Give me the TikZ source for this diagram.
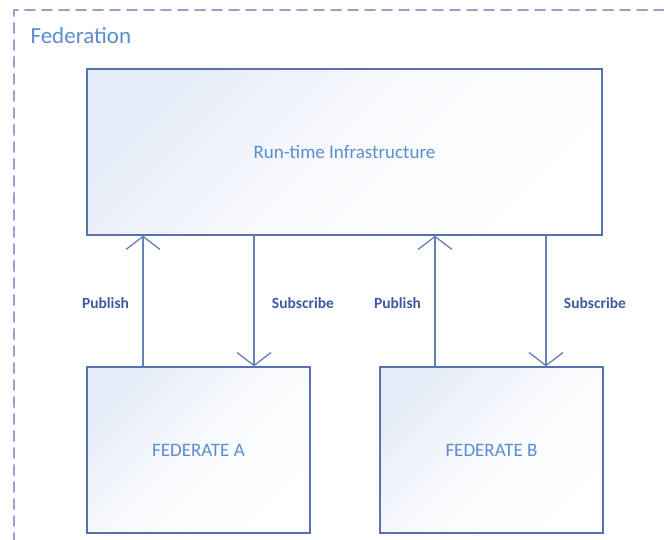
\documentclass[tikz,border=0pt]{standalone}
\usepackage{fontspec}
\setmainfont{Carlito}
\usetikzlibrary{arrows.meta,positioning}
\definecolor{frameblue}{HTML}{93A3CC}
\definecolor{boxline}{HTML}{5673AE}
\definecolor{textblue}{HTML}{5B8ED0}
\definecolor{labelblue}{HTML}{3D5C9E}
\definecolor{boxfill}{HTML}{E6ECF8}

\begin{document}
\begin{tikzpicture}[x=1pt,y=-1pt,line cap=round,
  block/.style={draw=boxline,line width=1.3pt,left color=boxfill,right color=white,middle color=white!75!boxfill,shading angle=45,
    text=textblue,font=\fontsize{19}{22}\selectfont,inner sep=0pt},
  flow/.style={draw=boxline!90,line width=1.3pt,-{Straight Barb[length=13pt,width=34pt,line width=1.3pt]}},
  lbl/.style={text=labelblue,font=\fontsize{15.5}{18}\selectfont\bfseries,yshift=-2.5pt}]
\useasboundingbox (0,0) rectangle (664,540);
\fill[white] (0,0) rectangle (664,540);
\begin{scope}
\clip (0,0) rectangle (664,540);
\draw[frameblue,line width=2pt,dash pattern=on 10pt off 7pt] (14,560) -- (14,10) -- (690,10);
\end{scope}
\node[anchor=west,text=textblue,font=\fontsize{23}{26}\selectfont] (fedlabel) at (27,36) {Federation};
\node[block,minimum width=515pt,minimum height=166pt] (rti) at (344.5,152) {Run-time Infrastructure};
\node[block,minimum width=223pt,minimum height=166pt] (feda) at (198.5,450) {FEDERATE A};
\node[block,minimum width=223pt,minimum height=166pt] (fedb) at (491.5,450) {FEDERATE B};
% publish / subscribe
\draw[flow] ([xshift=-55.5pt]feda.north) -- ([xshift=-55.5pt]feda.north |- rti.south) node[lbl,midway,left=10pt]{Publish};
\draw[flow] ([xshift=55.5pt]feda.north |- rti.south) -- ([xshift=55.5pt]feda.north) node[lbl,midway,right=14pt]{Subscribe};
\draw[flow] ([xshift=-56.5pt]fedb.north) -- ([xshift=-56.5pt]fedb.north |- rti.south) node[lbl,midway,left=10pt]{Publish};
\draw[flow] ([xshift=54.5pt]fedb.north |- rti.south) -- ([xshift=54.5pt]fedb.north) node[lbl,midway,right=14pt]{Subscribe};
\end{tikzpicture}
\end{document}
